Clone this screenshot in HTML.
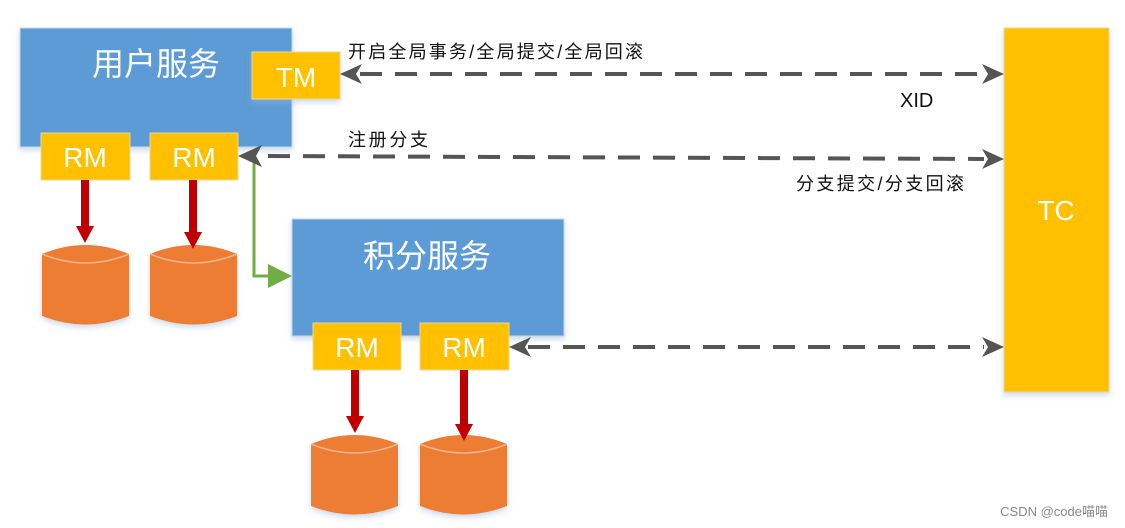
<!DOCTYPE html>
<html><head><meta charset="utf-8"><style>
html,body{margin:0;padding:0;background:#fff;}
svg{display:block;}
text{font-family:"Liberation Sans","Noto Sans CJK SC",sans-serif;}
</style></head><body>
<svg width="1125" height="528" viewBox="0 0 1125 528" xmlns="http://www.w3.org/2000/svg">
<defs>
<filter id="sh" x="-20%" y="-20%" width="140%" height="140%"><feDropShadow dx="0" dy="3" stdDeviation="3" flood-color="#9ab8dc" flood-opacity="0.5"/></filter>
<g id="cyl">
<path d="M0,9 Q43.5,-9 87,9 L87,71 Q43.5,88 0,71 Z" fill="#ed7d31"/>
<path d="M0,9 Q43.5,27 87,9" fill="none" stroke="#f2b48a" stroke-width="1.5"/>
</g>
</defs>
<rect x="20" y="28" width="272" height="119" fill="#5b9bd5" stroke="#c8d8ea" filter="url(#sh)"/>
<text x="156" y="75" font-size="32" fill="#fff" text-anchor="middle">用户服务</text>
<rect x="252" y="52" width="88" height="47" fill="#ffc000" stroke="#e8d7a0" filter="url(#sh)"/>
<text x="296" y="87" font-size="28" fill="#fff" text-anchor="middle">TM</text>
<rect x="41" y="133" width="89" height="47" fill="#ffc000" stroke="#e8d7a0"/>
<text x="85" y="167" font-size="28" fill="#fff" text-anchor="middle">RM</text>
<rect x="150" y="133" width="88" height="47" fill="#ffc000" stroke="#e8d7a0"/>
<text x="194" y="167" font-size="28" fill="#fff" text-anchor="middle">RM</text>
<use href="#cyl" x="42" y="245" filter="url(#sh)"/>
<use href="#cyl" x="150" y="245" filter="url(#sh)"/>
<rect x="81" y="180" width="8" height="48" fill="#c00000"/>
<polygon points="76,226 94,226 85,243" fill="#c00000"/>
<rect x="189" y="180" width="8" height="54" fill="#c00000"/>
<polygon points="184,232 202,232 193,249" fill="#c00000"/>
<rect x="292" y="219" width="272" height="117" fill="#5b9bd5" stroke="#c8d8ea" filter="url(#sh)"/>
<text x="427" y="267" font-size="32" fill="#fff" text-anchor="middle">积分服务</text>
<rect x="313" y="323" width="88" height="47" fill="#ffc000" stroke="#e8d7a0"/>
<text x="357" y="357" font-size="28" fill="#fff" text-anchor="middle">RM</text>
<rect x="420" y="323" width="89" height="47" fill="#ffc000" stroke="#e8d7a0"/>
<text x="464" y="357" font-size="28" fill="#fff" text-anchor="middle">RM</text>
<use href="#cyl" x="311" y="435" filter="url(#sh)"/>
<use href="#cyl" x="420" y="435" filter="url(#sh)"/>
<rect x="351" y="370" width="8" height="48" fill="#c00000"/>
<polygon points="346,416 364,416 355,433" fill="#c00000"/>
<rect x="460" y="370" width="8" height="56" fill="#c00000"/>
<polygon points="455,424 473,424 464,441" fill="#c00000"/>
<rect x="1004" y="28" width="105" height="364" fill="#ffc000" stroke="#e8d7a0" filter="url(#sh)"/>
<text x="1056" y="220" font-size="28" fill="#fff" text-anchor="middle">TC</text>
<polyline points="254,150 254,276 272,276" fill="none" stroke="#70ad47" stroke-width="3"/>
<polygon points="268,264 292,276 268,288" fill="#70ad47"/>
<g stroke="#555" stroke-width="4" fill="none" stroke-dasharray="22,13">
<line x1="360" y1="74" x2="984" y2="74"/>
<line x1="268" y1="156" x2="984" y2="159"/>
<line x1="528" y1="347" x2="984" y2="347"/>
</g>
<g fill="#555">
<polygon points="340,74 362,64 356,74 362,84"/>
<polygon points="1004,74 982,64 988,74 982,84"/>
<polygon points="238,156 262,145 256,156 262,167"/>
<polygon points="1004,159 982,149 988,159 982,169"/>
<polygon points="509,347 531,337 525,347 531,357"/>
<polygon points="1004,347 982,337 988,347 982,357"/>
</g>
<text x="348" y="58" font-size="18" fill="#111" textLength="295">开启全局事务/全局提交/全局回滚</text>
<text x="900" y="107" font-size="20" fill="#111">XID</text>
<text x="348" y="146" font-size="18" fill="#111" textLength="80">注册分支</text>
<text x="796" y="190" font-size="18" fill="#111" textLength="168">分支提交/分支回滚</text>
<text x="1108" y="516" font-size="13" fill="#888" text-anchor="end">CSDN @code喵喵</text>
</svg>
</body></html>
